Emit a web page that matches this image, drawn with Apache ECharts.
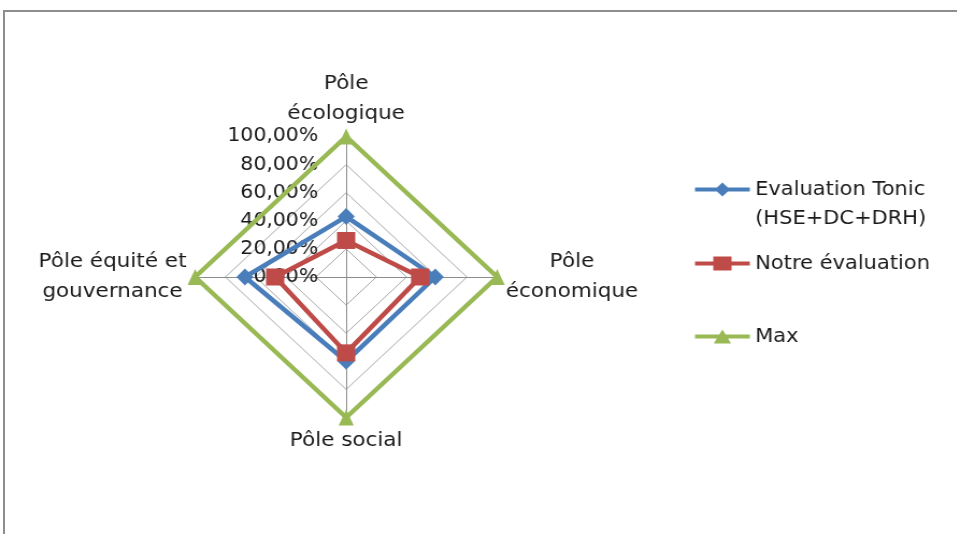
<!DOCTYPE html>
<html>
<head>
<meta charset="utf-8">
<script src="https://cdn.jsdelivr.net/npm/echarts@6/dist/echarts.min.js"></script>
<style>
  html, body { margin: 0; padding: 0; background: #fff; }
  #frame { position: absolute; left: 3px; top: 10px; width: 960px; height: 530px;
           border-top: 2px solid #8e8e8e; border-left: 2px solid #8e8e8e; box-sizing: border-box; }
  /* the chart is drawn a bit wider than tall */
  #chart { position: absolute; left: 0; top: 0; width: 890px; height: 534px;
           transform: scaleX(1.075); transform-origin: 0 0; }
</style>
</head>
<body>
<div id="frame"></div>
<div id="chart"></div>
<script>
// Radar axes, in drawing order (ECharts goes counter-clockwise from the top)
const categories = ['Pôle\nécologique', 'Pôle équité et\ngouvernance', 'Pôle social', 'Pôle\néconomique'];
const seriesNames = ['Evaluation Tonic (HSE+DC+DRH)', 'Notre évaluation', 'Max'];
const tonicValues = [0.43, 0.67, 0.60, 0.59];
const notreValues = [0.26, 0.47, 0.54, 0.49];
const maxValues = [1, 1, 1, 1];
const tickValues = [0, 0.2, 0.4, 0.6, 0.8, 1];

const FONT = 'DejaVu Sans';
const BLUE = '#4A7EBB', RED = '#BE4B48', GREEN = '#98B954';
const CX = 322, CY = 277, R = 140.5;

const pctLabel = v => (v * 100).toFixed(2).replace('.', ',') + '%';

// Legend icons: a short line with the series marker in the middle (51 x 14 box)
const ICON_DIAMOND = 'path://M0,5L20.4,5L25.5,0L30.6,5L51,5L51,9L30.6,9L25.5,14L20.4,9L0,9Z';
const ICON_SQUARE = 'path://M0,5L17,5L17,0L34,0L34,5L51,5L51,9L34,9L34,14L17,14L17,9L0,9Z';
const ICON_TRIANGLE = 'path://M0,5L22.6,5L25.5,0L28.4,5L51,5L51,9L30.7,9L33.5,14L17.5,14L20.3,9L0,9Z';

function legendBox(name, top, icon, formatter) {
  return {
    data: [name], orient: 'vertical', left: 641.5, top: top,
    itemWidth: 51, itemHeight: 14, itemGap: 0, icon: icon,
    selectedMode: false,
    formatter: formatter,
    textStyle: { fontFamily: FONT, fontSize: 19.5, color: '#1a1a1a', lineHeight: 29 }
  };
}

const chart = echarts.init(document.getElementById('chart'), null, { renderer: 'canvas' });
chart.setOption({
  animation: false,
  backgroundColor: 'transparent',
  legend: [
    legendBox(seriesNames[0], 141, ICON_DIAMOND, () => '\nEvaluation Tonic\n(HSE+DC+DRH)'),
    legendBox(seriesNames[1], 244, ICON_SQUARE),
    legendBox(seriesNames[2], 317, ICON_TRIANGLE)
  ],
  // value axis carrying the percentage labels along the upper spoke
  grid: { left: CX, top: CY - R, width: 1, height: R, containLabel: false },
  xAxis: { type: 'value', show: false },
  yAxis: {
    type: 'value', min: 0, max: 1, interval: 0.2,
    axisLine: { show: false }, axisTick: { show: false }, splitLine: { show: false },
    axisLabel: {
      margin: 26, fontFamily: FONT, fontSize: 19, color: '#1a1a1a',
      formatter: v => tickValues.includes(Math.round(v * 10) / 10) ? pctLabel(v) : ''
    }
  },
  radar: {
    center: [CX, CY], radius: R, startAngle: 90, shape: 'polygon', splitNumber: 5,
    indicator: categories.map(c => ({ name: c, min: 0, max: 1 })),
    nameGap: 8,
    axisName: {
      fontFamily: FONT, fontSize: 20, color: '#1a1a1a', lineHeight: 30,
      formatter: name => name.split('\n').map(s => '{c|' + s + '}').join('\n'),
      rich: { c: { align: 'center', fontFamily: FONT, fontSize: 20, color: '#1a1a1a', lineHeight: 30 } }
    },
    axisLine: { lineStyle: { color: '#8c8c8c', width: 1 } },
    splitLine: { lineStyle: { color: '#a6a6a6', width: 1 } },
    splitArea: { show: false },
    axisLabel: { show: false }
  },
  series: [{
    type: 'radar',
    data: [
      { name: seriesNames[0], value: tonicValues, symbol: 'diamond', symbolSize: [16, 17],
        lineStyle: { color: BLUE, width: 4.5 }, itemStyle: { color: BLUE } },
      { name: seriesNames[1], value: notreValues, symbol: 'rect', symbolSize: [17, 17],
        lineStyle: { color: RED, width: 4.5 }, itemStyle: { color: RED } },
      { name: seriesNames[2], value: maxValues, symbol: 'triangle', symbolSize: [14, 16],
        lineStyle: { color: GREEN, width: 4.5 }, itemStyle: { color: GREEN } }
    ]
  }]
});
</script>
</body>
</html>
